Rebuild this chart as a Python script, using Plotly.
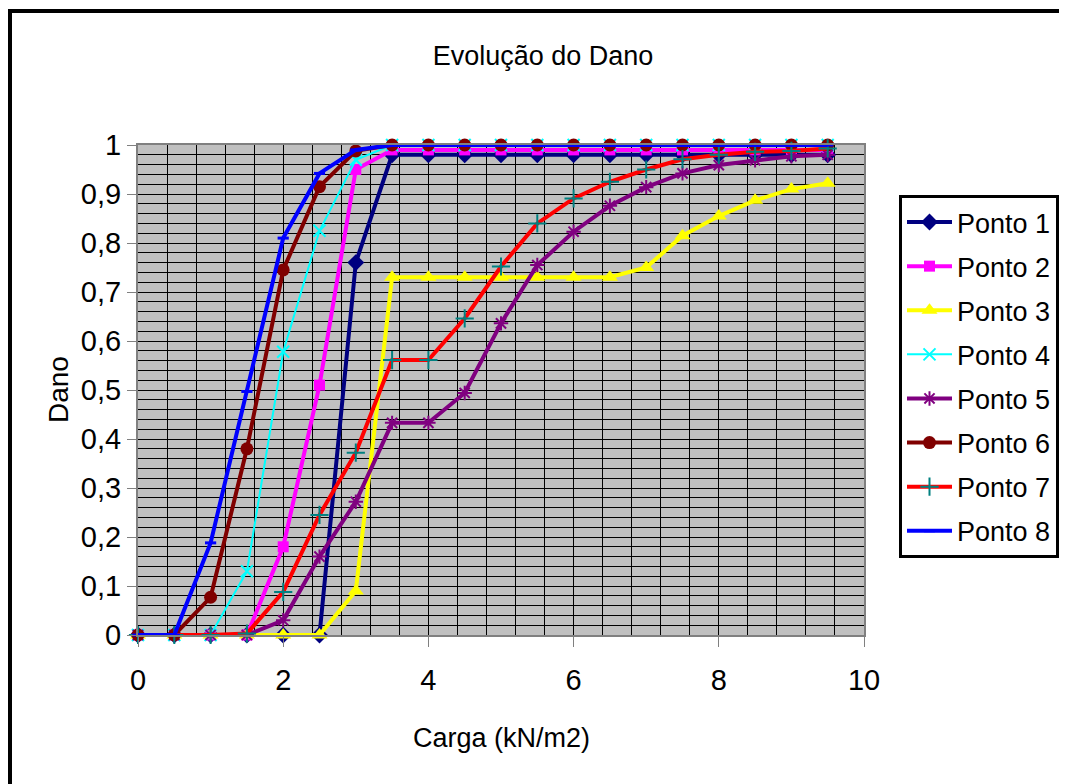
import plotly.graph_objects as go

# ---------------- data ----------------
carga = [0, 0.5, 1, 1.5, 2, 2.5, 3, 3.5, 4, 4.5, 5, 5.5, 6, 6.5, 7, 7.5, 8, 8.5, 9, 9.5]

ponto1 = [0, 0, 0, 0, 0, 0, 0.76, 0.98, 0.98, 0.98, 0.98, 0.98, 0.98, 0.98, 0.98, 0.98, 0.98, 0.98, 0.98, 0.98]
ponto2 = [0, 0, 0, 0, 0.18, 0.51, 0.95, 0.99, 0.99, 0.99, 0.99, 0.99, 0.99, 0.99, 0.99, 0.99, 0.99, 0.99, 0.99, 0.99]
ponto3 = [0, 0, 0, 0, 0, 0, 0.09, 0.73, 0.73, 0.73, 0.73, 0.73, 0.73, 0.73, 0.75, 0.815, 0.855, 0.887, 0.91, 0.922]
ponto4 = [0, 0, 0, 0.13, 0.578, 0.825, 0.97, 1.0, 1.0, 1.0, 1.0, 1.0, 1.0, 1.0, 1.0, 1.0, 1.0, 1.0, 1.0, 1.0]
ponto5 = [0, 0, 0, 0, 0.03, 0.16, 0.272, 0.433, 0.433, 0.494, 0.636, 0.755, 0.823, 0.876, 0.914, 0.942, 0.959, 0.969, 0.977, 0.98]
ponto6 = [0, 0, 0.077, 0.38, 0.745, 0.915, 0.988, 1.0, 1.0, 1.0, 1.0, 1.0, 1.0, 1.0, 1.0, 1.0, 1.0, 1.0, 1.0, 1.0]
ponto7 = [0, 0, 0, 0.003, 0.088, 0.245, 0.372, 0.561, 0.561, 0.646, 0.752, 0.84, 0.891, 0.925, 0.95, 0.971, 0.98, 0.986, 0.988, 0.993]
ponto8 = [0, 0, 0.188, 0.497, 0.81, 0.942, 0.99, 1.0, 1.0, 1.0, 1.0, 1.0, 1.0, 1.0, 1.0, 1.0, 1.0, 1.0, 1.0, 1.0]

names = ["Ponto 1", "Ponto 2", "Ponto 3", "Ponto 4", "Ponto 5", "Ponto 6", "Ponto 7", "Ponto 8"]
x_ticks = [0, 2, 4, 6, 8, 10]

title_text = "Evolução do Dano"
x_title = "Carga (kN/m2)"
y_title = "Dano"

# ---------------- styling ----------------
FONT = "Liberation Sans, Arial, sans-serif"
FS_TEXT = 27
FS_TICK = 29

series = [ponto1, ponto2, ponto3, ponto4, ponto5, ponto6, ponto7, ponto8]
styles = [
    dict(line=dict(color="#000080", width=4), marker=dict(symbol="diamond", size=13, color="#000080")),
    dict(line=dict(color="#FF00FF", width=4), marker=dict(symbol="square", size=11, color="#FF00FF")),
    dict(line=dict(color="#FFFF00", width=4), marker=dict(symbol="triangle-up", size=14, color="#FFFF00")),
    dict(line=dict(color="#00FFFF", width=2), marker=dict(symbol="x-thin-open", size=12, color="#00FFFF", line=dict(color="#00FFFF", width=2))),
    dict(line=dict(color="#800080", width=4), marker=dict(symbol="asterisk-open", size=12, color="#800080", line=dict(color="#800080", width=2))),
    dict(line=dict(color="#800000", width=4), marker=dict(symbol="circle", size=13, color="#800000")),
    dict(line=dict(color="#FF0000", width=4), marker=dict(symbol="cross-thin-open", size=13, color="#008080", line=dict(color="#008080", width=2))),
    dict(line=dict(color="#0000FF", width=4), marker=dict(symbol="line-ew-open", size=8, color="#0000FF", line=dict(color="#0000FF", width=3))),
]

fig = go.Figure()
for name, ys, st in zip(names, series, styles):
    fig.add_trace(go.Scatter(
        x=carga, y=ys, name=name, mode="lines+markers",
        line=st["line"], marker=st["marker"], cliponaxis=False,
        legendgroup=name,
    ))

# page body has an 8px margin; figure coords = screen coords - OFF
OFF = 8
W, H = 1067 - OFF, 784 - OFF
L, R, T, B = 138 - OFF, 864 - OFF, 145 - OFF, 635 - OFF
pw, ph = R - L, B - T

def px(xs):  # screen x -> paper x
    return (xs - OFF - L) / pw

def py(ys):  # screen y -> paper y
    return (B - (ys - OFF)) / ph

fig.update_layout(
    width=W, height=H,
    margin=dict(l=L, r=W - R, t=T, b=H - B, pad=0, autoexpand=False),
    paper_bgcolor="white",
    plot_bgcolor="#C0C0C0",
    separators=",.",
    font=dict(family=FONT, size=FS_TEXT, color="black"),
    title=dict(text=title_text, x=(543 - OFF) / W, xanchor="center", y=1 - (56 - OFF) / H, yanchor="middle",
               font=dict(family=FONT, size=FS_TEXT, color="black")),
    showlegend=True,
    legend=dict(
        x=px(899), y=py(195), xanchor="left", yanchor="top",
        bgcolor="white", bordercolor="black", borderwidth=3,
        font=dict(family=FONT, size=FS_TEXT, color="black"),
        tracegroupgap=6, itemwidth=45,
    ),
    xaxis=dict(
        range=[0, 10], tickvals=x_ticks, ticktext=[str(v) for v in x_ticks],
        showgrid=True, gridcolor="black", gridwidth=1,
        ticks="outside", ticklen=10, tickcolor="#808080", tickwidth=1,
        showline=True, linecolor="#808080", linewidth=2, mirror=True,
        zeroline=False,
        minor=dict(dtick=0.4, tick0=0, showgrid=True, gridcolor="black", gridwidth=1, ticklen=0),
        tickfont=dict(family=FONT, size=FS_TICK, color="black"),
        ticklabelstandoff=8,
    ),
    yaxis=dict(
        range=[0, 1], dtick=0.1, tick0=0,
        showgrid=True, gridcolor="black", gridwidth=1,
        ticks="outside", ticklen=9, tickcolor="#808080", tickwidth=1,
        showline=True, linecolor="#808080", linewidth=2, mirror=True,
        zeroline=False,
        minor=dict(dtick=0.02, tick0=0, showgrid=True, gridcolor="black", gridwidth=1, ticklen=0),
        tickfont=dict(family=FONT, size=FS_TICK, color="black"),
        ticklabelstandoff=0,
    ),
    annotations=[
        dict(text=x_title, xref="paper", yref="paper", x=px(501), y=py(738),
             xanchor="center", yanchor="middle", showarrow=False,
             font=dict(family=FONT, size=FS_TEXT, color="black")),
        dict(text=y_title, xref="paper", yref="paper", x=px(58), y=py(390),
             xanchor="center", yanchor="middle", showarrow=False, textangle=-90,
             font=dict(family=FONT, size=28, color="black")),
    ],
    shapes=[
        dict(type="line", xref="paper", yref="paper", x0=px(8), x1=px(1075), y0=py(11), y1=py(11),
             line=dict(color="black", width=4)),
        dict(type="line", xref="paper", yref="paper", x0=px(10), x1=px(10), y0=py(9), y1=py(790),
             line=dict(color="black", width=4)),
    ],
)

fig.write_html("out.html")
